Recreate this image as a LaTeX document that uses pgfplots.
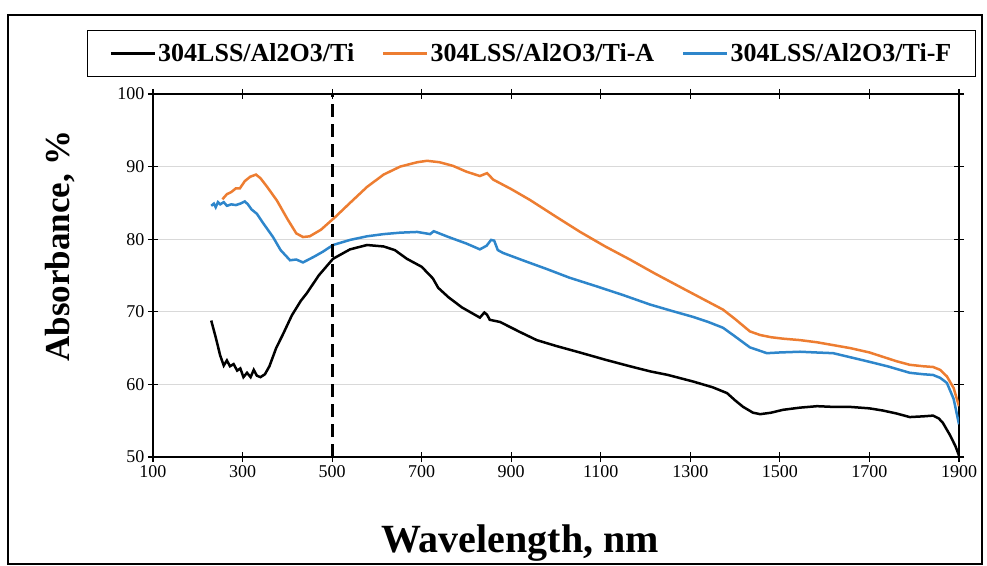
\documentclass[border=0pt]{standalone}
\usepackage{pgfplots}
\pgfplotsset{compat=1.18}
\usepackage{fontspec}
\setmainfont{Liberation Serif}
\definecolor{ctiA}{RGB}{237,125,49}
\definecolor{ctiF}{RGB}{46,134,203}

\begin{document}
\begin{tikzpicture}[x=1pt,y=1pt]
\useasboundingbox (-153,-108) rectangle (834,457);
\draw[line width=1.2pt] (-145,-107) rectangle (829,442);
\begin{axis}[
  at={(0,0)}, anchor=origin,
  scale only axis,
  width=806pt, height=363pt,
  xmin=100, xmax=1900, ymin=50, ymax=100,
  xtick={100,300,...,1900},
  ytick={50,60,...,100},
  tick align=center,
  major tick length=10pt,
  tick style={black, line width=1.2pt},
  axis line style={line width=1.4pt},
  ymajorgrids,
  grid style={gray!30, line width=1pt},
  /pgf/number format/assume math mode=true,
  /pgf/number format/1000 sep={},
  ticklabel style={font=\fontsize{18}{20}\selectfont},
  legend columns=3,
  legend style={at={(0.4696,1.1116)}, anchor=center, draw=black, line width=1.2pt,
    font=\fontsize{26}{28}\selectfont\bfseries, inner xsep=22pt, inner ysep=12pt,
    nodes={inner xsep=2pt, inner ysep=1pt},
    /tikz/every even column/.append style={column sep=26pt}},
  legend image code/.code={\draw[line width=2.5pt,#1] (0pt,0pt) -- (44pt,0pt);},
]
\addplot[black, line width=2.5pt] coordinates {
(230,68.8) (240,66.5) (250,64) (258,62.6) (265,63.3) (272,62.5) (280,62.8) (288,61.9)
(295,62.2) (302,61.0) (310,61.6) (318,61.0) (325,62.0) (332,61.2) (340,61.0) (350,61.4)
(360,62.5) (375,65) (391,67) (410,69.5) (430,71.5) (444,72.6) (470,75) (502,77.3)
(540,78.6) (578,79.2) (615,79.0) (640,78.5) (667,77.3) (700,76.2) (725,74.6) (737,73.3)
(760,72.0) (790,70.6) (830,69.2) (840,69.9) (846,69.6) (852,68.9) (875,68.6) (920,67.2)
(957,66.1) (1000,65.3) (1053,64.4) (1110,63.4) (1165,62.5) (1210,61.8) (1250,61.3)
(1306,60.4) (1350,59.6) (1382,58.8) (1400,57.8) (1418,56.9) (1440,56.1) (1456,55.9)
(1480,56.1) (1507,56.5) (1545,56.8) (1583,57.0) (1620,56.9) (1657,56.9) (1700,56.7)
(1730,56.4) (1760,56.0) (1790,55.5) (1820,55.6) (1842,55.7) (1855,55.3) (1864,54.7)
(1880,53.0) (1892,51.5) (1900,50.2)
};
\addlegendentry{304LSS/Al2O3/Ti}
\addplot[ctiA, line width=2.5pt] coordinates {
(255,85.5) (265,86.2) (275,86.5) (285,87.0) (294,87.0) (305,88.0) (317,88.6) (330,88.9)
(340,88.4) (355,87.2) (377,85.3) (400,82.8) (420,80.8) (435,80.3) (450,80.4) (475,81.3)
(506,83.0) (540,85.0) (578,87.2) (615,88.9) (652,90.0) (690,90.6) (712,90.8) (740,90.6)
(770,90.1) (800,89.3) (830,88.7) (846,89.1) (860,88.2) (900,86.9) (942,85.4) (1000,83.1)
(1054,81.0) (1110,79.0) (1165,77.2) (1220,75.3) (1284,73.2) (1330,71.7) (1373,70.3)
(1400,69.0) (1433,67.3) (1456,66.8) (1480,66.5) (1507,66.3) (1545,66.1) (1583,65.8)
(1620,65.4) (1657,65.0) (1700,64.4) (1730,63.8) (1760,63.2) (1790,62.7) (1820,62.5)
(1842,62.4) (1858,62.0) (1873,61.1) (1888,59.5) (1900,57.0)
};
\addlegendentry{304LSS/Al2O3/Ti-A}
\addplot[ctiF, line width=2.5pt] coordinates {
(230,84.6) (236,84.9) (240,84.4) (245,85.1) (250,84.8) (258,85.1) (265,84.6) (275,84.8)
(285,84.7) (295,84.9) (305,85.2) (312,84.8) (320,84.1) (332,83.5) (345,82.3) (368,80.3)
(385,78.5) (406,77.1) (420,77.2) (435,76.8) (460,77.6) (480,78.3) (502,79.2) (540,79.9)
(578,80.4) (615,80.7) (652,80.9) (690,81.0) (719,80.7) (727,81.1) (760,80.3) (800,79.4)
(830,78.6) (845,79.1) (855,79.9) (862,79.8) (870,78.5) (882,78.1) (930,77.0) (979,75.9)
(1030,74.7) (1091,73.5) (1150,72.3) (1210,71.0) (1260,70.1) (1306,69.3) (1340,68.6)
(1373,67.8) (1400,66.6) (1433,65.1) (1471,64.3) (1500,64.4) (1545,64.5) (1580,64.4)
(1619,64.3) (1660,63.7) (1694,63.2) (1740,62.5) (1790,61.6) (1820,61.4) (1842,61.3)
(1858,60.9) (1873,60.2) (1888,58.0) (1900,54.5)
};
\addlegendentry{304LSS/Al2O3/Ti-F}
\addplot[black, line width=3pt, dash pattern=on 13pt off 7pt, forget plot] coordinates {(500,50) (500,100)};
\end{axis}
\node[font=\fontsize{40}{44}\selectfont\bfseries, anchor=base] at (367,-95) {Wavelength, nm};
\node[font=\fontsize{35}{40}\selectfont\bfseries, rotate=90, anchor=base] at (-83,211) {Absorbance, \%};
\end{tikzpicture}
\end{document}
